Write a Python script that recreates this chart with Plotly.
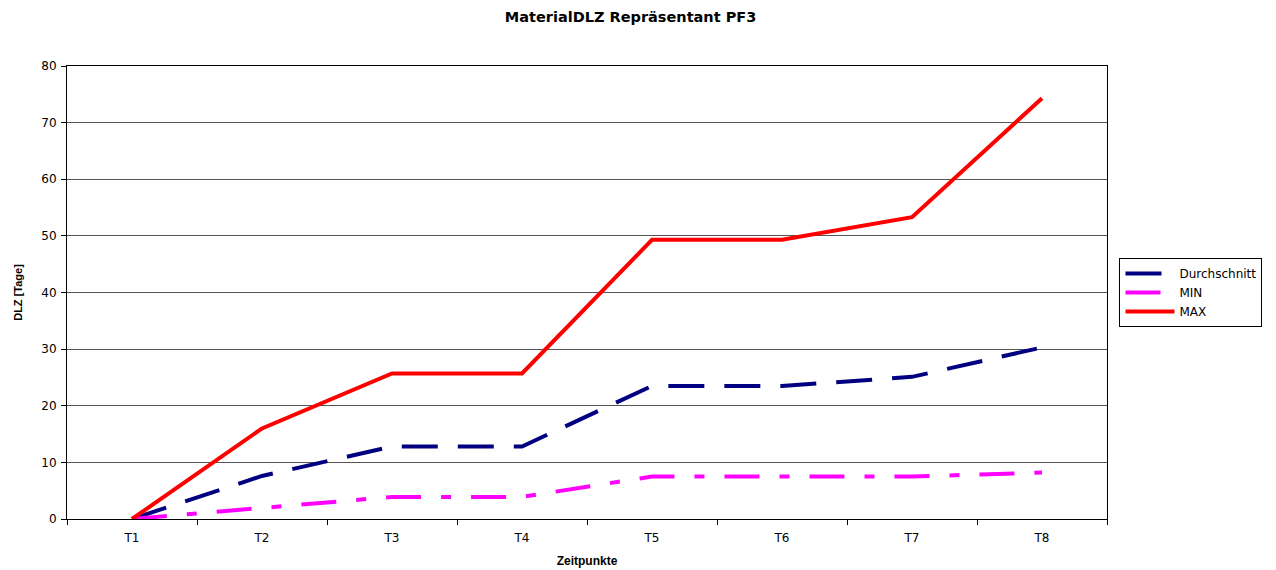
import plotly.graph_objects as go

zeitpunkte = ['T1', 'T2', 'T3', 'T4', 'T5', 'T6', 'T7', 'T8']
durchschnitt = [0, 7.6, 12.8, 12.8, 23.5, 23.5, 25.1, 30.3]
min_werte = [0, 1.9, 3.9, 3.9, 7.5, 7.5, 7.5, 8.2]
max_werte = [0, 16.0, 25.7, 25.7, 49.3, 49.3, 53.3, 74.3]

fig = go.Figure()
fig.add_trace(go.Scatter(x=zeitpunkte, y=durchschnitt, name='Durchschnitt', mode='lines',
                         line=dict(color='#000080', width=4, dash='36px,20px')))
fig.add_trace(go.Scatter(x=zeitpunkte, y=min_werte, name='MIN', mode='lines',
                         line=dict(color='#FF00FF', width=4, dash='35px,20px,10px,20px')))
fig.add_trace(go.Scatter(x=zeitpunkte, y=max_werte, name='MAX', mode='lines',
                         line=dict(color='#FF0000', width=4)))

# Seite hat 8px Rand -> Figur etwas kleiner, Ränder angepasst
fig.update_layout(
    width=1268, height=562,
    margin=dict(l=59, r=169, t=58, b=51, autoexpand=False),
    paper_bgcolor='white', plot_bgcolor='white',
    font=dict(family='DejaVu Sans', size=12, color='black'),
    title=dict(text='<b>MaterialDLZ Repräsentant PF3</b>', x=0.491, xanchor='center',
               y=0.984, yanchor='middle', font=dict(size=14.5)),
    legend=dict(x=1.012, y=0.5, xanchor='left', yanchor='middle',
                bordercolor='black', borderwidth=1, bgcolor='white',
                font=dict(size=12), tracegroupgap=0, itemwidth=49),
    showlegend=True,
)
fig.update_xaxes(
    type='category', range=[-0.5, 7.5], tickson='boundaries',
    ticks='outside', ticklen=5, tickcolor='black', ticklabelstandoff=8,
    showline=True, linecolor='black', linewidth=1, mirror=True,
    showgrid=False, tickfont=dict(size=12), automargin=False,
    title=dict(text='<b>Zeitpunkte</b>', font=dict(family='Liberation Sans', size=12), standoff=12),
)
fig.update_yaxes(
    range=[0, 80], dtick=10, ticks='outside', ticklen=5, tickcolor='black',
    ticklabelstandoff=2,
    showline=True, linecolor='black', linewidth=1, mirror=True,
    showgrid=True, gridcolor='#555555', gridwidth=1, zeroline=False,
    tickfont=dict(size=12), automargin=False,
    title=dict(text='<b>DLZ [Tage]</b>', font=dict(family='Liberation Sans', size=11), standoff=16),
)

fig.write_html("out.html")
